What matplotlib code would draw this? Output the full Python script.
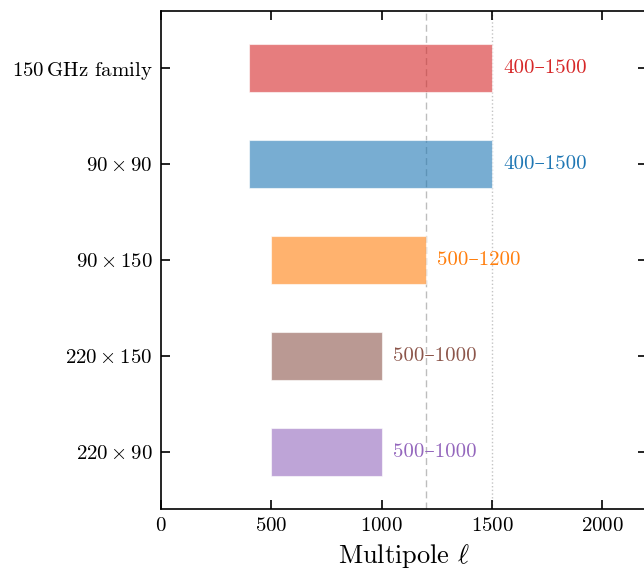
import matplotlib
matplotlib.use('Agg')
import matplotlib.pyplot as plt
import numpy as np

plt.rcParams['font.family'] = ['cmr10', 'DejaVu Serif']
plt.rcParams['mathtext.fontset'] = 'cm'
plt.rcParams['axes.formatter.use_mathtext'] = True

# multipole ranges used for each spectrum
labels = [r'$150\,\mathrm{GHz}$ family', r'$90\times90$', r'$90\times150$',
          r'$220\times150$', r'$220\times90$']
ell_min = [400, 400, 500, 500, 500]
ell_max = [1500, 1500, 1200, 1000, 1000]
colors = ['tab:red', 'tab:blue', 'tab:orange', 'tab:brown', 'tab:purple']

fig = plt.figure(figsize=(6.44, 5.72), dpi=100)
ax = fig.add_axes([0.25, 0.11, 0.754, 0.871])

y = np.arange(len(labels))
for i in range(len(labels)):
    ax.barh(y[i], ell_max[i] - ell_min[i], left=ell_min[i], height=0.5,
            color=colors[i], alpha=0.6, edgecolor='white', linewidth=0.8)
    ax.text(ell_max[i] + 50, y[i], '%d–%d' % (ell_min[i], ell_max[i]),
            color=colors[i], va='center', ha='left', fontsize=15)

ax.axvline(1200, color='#bdbdbd', ls=(0, (5, 3)), lw=1.0, zorder=0)
ax.axvline(1500, color='#c4c4c4', ls=':', lw=1.0, zorder=0)

ax.set_yticks(y)
ax.set_yticklabels(labels)
ax.set_ylim(len(labels) - 0.4, -0.6)
ax.set_xlim(0, 2200)
ax.set_xticks([0, 500, 1000, 1500, 2000])
ax.set_xlabel(r'Multipole $\ell$', fontsize=19, labelpad=5)
ax.tick_params(direction='in', top=True, right=True, length=6.5, width=1.2,
               labelsize=15, pad=6)
for s in ax.spines.values():
    s.set_linewidth(1.2)

fig.savefig('out.png', dpi=100)
